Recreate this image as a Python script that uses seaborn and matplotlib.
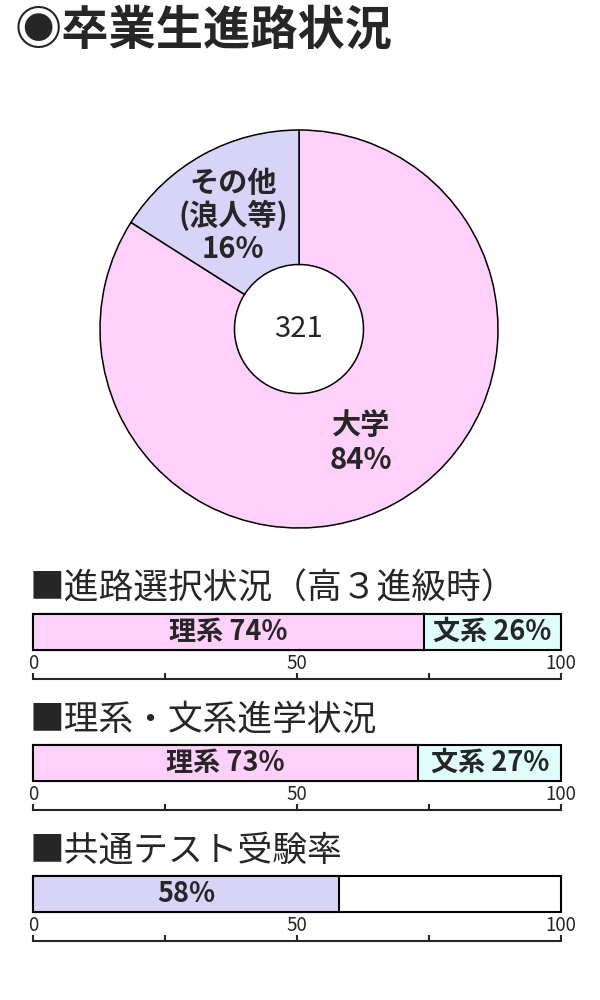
import numpy as np
import pandas as pd
import matplotlib
matplotlib.use("Agg")
import matplotlib.pyplot as plt
import seaborn as sns

# データ
pie_labels = ["大学", "その他\n(浪人等)"]
pie_values = [84, 16]
total = 321

sections = ["進路選択状況（高３進級時）", "理系・文系進学状況", "共通テスト受験率"]
rikei = [74, 73]
bunkei = [26, 27]
kyotsu = [58]

pink = "#FFD0FA"
lavender = "#D8D4F8"
cyan = "#E0FFFA"

sns.set_style("white")
plt.rcParams["font.family"] = ["Noto Sans CJK JP", "DejaVu Sans"]

fig = plt.figure(figsize=(6, 10), dpi=100)

def fx(px):
    return px / 600

def fy(px):
    return 1 - px / 1000

# タイトル
fig.text(fx(15), fy(31), "◉卒業生進路状況", fontsize=34, fontweight="bold", va="center")

# 円グラフ
cx, cy, r = 299, 329, 199
half = 220
ax = fig.add_axes([fx(cx - half), fy(cy + half), half * 2 / 600, half * 2 / 1000])
ax.pie(pie_values, colors=[pink, lavender], startangle=90, counterclock=False,
       radius=1, wedgeprops=dict(width=1 - 64.5 / 199, edgecolor="black", linewidth=1.1))
lim = half / r
ax.set_xlim(-lim, lim)
ax.set_ylim(-lim, lim)
ax.axis("off")
ax.text(0, 0, str(total), ha="center", va="center", fontsize=21)
ax.text(0.31, -0.57, f"{pie_labels[0]}\n{pie_values[0]}%", ha="center", va="center",
        fontsize=21, fontweight="bold", linespacing=1.2)
ax.text(-0.33, 0.57, f"{pie_labels[1]}\n{pie_values[1]}%", ha="center", va="center",
        fontsize=21, fontweight="bold", linespacing=1.1)

# 帯グラフ
bar_tops = [614, 745, 876]
bar_h = 36
gap = 65


def draw_bar(top, segs):
    a = fig.add_axes([fx(33), fy(top + gap), 528 / 600, gap / 1000])
    cum = 100
    for val, col in segs:
        sns.barplot(x=[cum], y=["x"], orient="h", color=col, width=1, saturation=1,
                    edgecolor="black", linewidth=1.5, ax=a)
        cum -= val
    for p in a.patches:
        p.set_clip_on(False)
    a.set_xlim(0, 100)
    a.set_ylim(-0.5 + gap / bar_h, -0.5)
    a.set_xlabel("")
    a.set_ylabel("")
    a.set_yticks([])
    for s in ["left", "top", "right"]:
        a.spines[s].set_visible(False)
    a.spines["bottom"].set_linewidth(1.5)
    a.set_xticks([0, 25, 50, 75, 100])
    a.set_xticklabels(["0", "", "50", "", "100"])
    a.tick_params(axis="x", direction="in", length=4, width=1.5, pad=-19,
                  labelsize=13.5, bottom=True)
    return a


for i, top in enumerate(bar_tops):
    fig.text(fx(30), fy(top - 25), "■" + sections[i], fontsize=25, va="center")

for i in range(2):
    a = draw_bar(bar_tops[i], [(bunkei[i], cyan), (rikei[i], pink)])
    a.text(rikei[i] / 2, 0, f"理系 {rikei[i]}%", ha="center", va="center",
           fontsize=19.5, fontweight="bold")
    a.text(rikei[i] + bunkei[i] / 2, 0, f"文系 {bunkei[i]}%", ha="center", va="center",
           fontsize=19.5, fontweight="bold")

a = draw_bar(bar_tops[2], [(100 - kyotsu[0], "white"), (kyotsu[0], lavender)])
a.text(kyotsu[0] / 2, 0, f"{kyotsu[0]}%", ha="center", va="center",
       fontsize=19.5, fontweight="bold")

fig.savefig("out.png", dpi=100)
